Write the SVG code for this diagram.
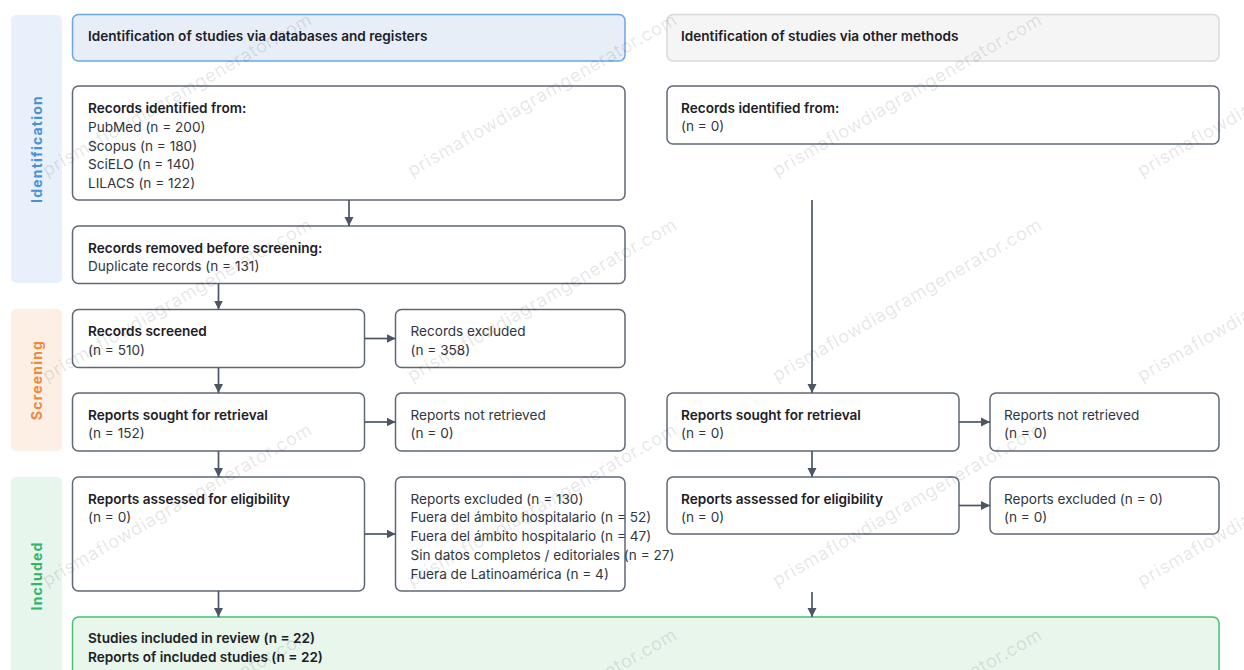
<svg xmlns="http://www.w3.org/2000/svg" width="1244" height="670" viewBox="0 0 1244 670">
  <defs>
    <marker id="arr" viewBox="0 0 10 10" refX="10" refY="5" markerWidth="9" markerHeight="10" markerUnits="userSpaceOnUse" orient="auto">
      <path d="M0,0 L10,5 L0,10 z" fill="#4b5565"/>
    </marker>
  </defs>
  <style>
    text { font-family: Inter, "Liberation Sans", "DejaVu Sans", sans-serif; font-size: 13.6px; }
    .box { fill: #ffffff; stroke: #5f6877; stroke-width: 1.5; }
    .t { fill: #1c2027; font-weight: 600; }
    .r { fill: #30353e; font-weight: 400; }
    .phase { font-size: 14px; font-weight: 700; letter-spacing: 1.2px; text-anchor: middle; }
    .conn line { stroke: #4b5565; stroke-width: 1.7; marker-end: url(#arr); }
    .wm text { font-size: 18px; fill: #000; fill-opacity: 0.11; }
  </style>
  <rect width="1244" height="670" fill="#ffffff"/>

  <!-- phase bars -->
  <g id="phase-identification">
    <rect x="11" y="15" width="51" height="268" rx="5" fill="#e8f0fb"/>
    <text class="phase" transform="translate(41.5,149) rotate(-90)" fill="#4a90d9">Identification</text>
  </g>
  <g id="phase-screening">
    <rect x="11" y="309" width="51" height="142" rx="5" fill="#fdefe3"/>
    <text class="phase" transform="translate(41.5,380) rotate(-90)" fill="#f0893a">Screening</text>
  </g>
  <g id="phase-included">
    <rect x="11" y="477" width="51" height="200" rx="5" fill="#e7f6ed"/>
    <text class="phase" transform="translate(41.5,576) rotate(-90)" fill="#2fb46a">Included</text>
  </g>

  <!-- headers -->
  <g id="header-databases">
    <rect x="72.5" y="14.5" width="552.5" height="46.5" rx="6" fill="#e8eef8" stroke="#6aa6e6" stroke-width="1.5"/>
    <text class="t" x="88" y="41">Identification of studies via databases and registers</text>
  </g>
  <g id="header-other">
    <rect x="667" y="14.5" width="552" height="46.5" rx="6" fill="#f5f5f5" stroke="#d9d9d9" stroke-width="1.5"/>
    <text class="t" x="681" y="41">Identification of studies via other methods</text>
  </g>

  <!-- left column -->
  <g id="records-identified-db">
    <rect class="box" x="72.5" y="86" width="552.5" height="114" rx="6"/>
    <text class="t" x="88" y="113">Records identified from:</text>
    <text class="r" x="88" y="131.7">PubMed (n = 200)</text>
    <text class="r" x="88" y="150.5">Scopus (n = 180)</text>
    <text class="r" x="88" y="169.2">SciELO (n = 140)</text>
    <text class="r" x="88" y="188">LILACS (n = 122)</text>
  </g>
  <g id="records-removed">
    <rect class="box" x="72.5" y="226" width="552.5" height="57.5" rx="6"/>
    <text class="t" x="88" y="252.7">Records removed before screening:</text>
    <text class="r" x="88" y="271.3">Duplicate records (n = 131)</text>
  </g>
  <g id="records-screened">
    <rect class="box" x="72.5" y="309.5" width="292" height="58" rx="6"/>
    <text class="t" x="88" y="336">Records screened</text>
    <text class="r" x="88" y="354.8">(n = 510)</text>
  </g>
  <g id="records-excluded">
    <rect class="box" x="395.5" y="309.5" width="229.5" height="58" rx="6"/>
    <text class="r" x="410.5" y="336">Records excluded</text>
    <text class="r" x="410.5" y="354.8">(n = 358)</text>
  </g>
  <g id="reports-sought-db">
    <rect class="box" x="72.5" y="393" width="292" height="58" rx="6"/>
    <text class="t" x="88" y="419.5">Reports sought for retrieval</text>
    <text class="r" x="88" y="438.3">(n = 152)</text>
  </g>
  <g id="reports-not-retrieved-db">
    <rect class="box" x="395.5" y="393" width="229.5" height="58" rx="6"/>
    <text class="r" x="410.5" y="419.5">Reports not retrieved</text>
    <text class="r" x="410.5" y="438.3">(n = 0)</text>
  </g>
  <g id="reports-assessed-db">
    <rect class="box" x="72.5" y="477" width="292" height="114" rx="6"/>
    <text class="t" x="88" y="503.5">Reports assessed for eligibility</text>
    <text class="r" x="88" y="522.3">(n = 0)</text>
  </g>
  <g id="reports-excluded-db">
    <rect class="box" x="395.5" y="477" width="229.5" height="114" rx="6"/>
    <text class="r" x="410.5" y="503.5">Reports excluded (n = 130)</text>
    <text class="r" x="410.5" y="522.3">Fuera del ámbito hospitalario (n = 52)</text>
    <text class="r" x="410.5" y="541.1">Fuera del ámbito hospitalario (n = 47)</text>
    <text class="r" x="410.5" y="559.9">Sin datos completos / editoriales (n = 27)</text>
    <text class="r" x="410.5" y="578.7">Fuera de Latinoamérica (n = 4)</text>
  </g>

  <!-- right column -->
  <g id="records-identified-other">
    <rect class="box" x="667" y="86" width="552" height="58" rx="6"/>
    <text class="t" x="681" y="112.5">Records identified from:</text>
    <text class="r" x="681" y="131.3">(n = 0)</text>
  </g>
  <g id="reports-sought-other">
    <rect class="box" x="667" y="393" width="292" height="58" rx="6"/>
    <text class="t" x="681" y="419.5">Reports sought for retrieval</text>
    <text class="r" x="681" y="438.3">(n = 0)</text>
  </g>
  <g id="reports-not-retrieved-other">
    <rect class="box" x="990" y="393" width="229" height="58" rx="6"/>
    <text class="r" x="1004" y="419.5">Reports not retrieved</text>
    <text class="r" x="1004" y="438.3">(n = 0)</text>
  </g>
  <g id="reports-assessed-other">
    <rect class="box" x="667" y="477" width="292" height="57" rx="6"/>
    <text class="t" x="681" y="503.5">Reports assessed for eligibility</text>
    <text class="r" x="681" y="522.3">(n = 0)</text>
  </g>
  <g id="reports-excluded-other">
    <rect class="box" x="990" y="477" width="229" height="57" rx="6"/>
    <text class="r" x="1004" y="503.5">Reports excluded (n = 0)</text>
    <text class="r" x="1004" y="522.3">(n = 0)</text>
  </g>

  <!-- included -->
  <g id="studies-included">
    <rect x="72.5" y="617" width="1146.5" height="72" rx="6" fill="#e8f6ec" stroke="#45c06f" stroke-width="1.5"/>
    <text class="t" x="88" y="643">Studies included in review (n = 22)</text>
    <text class="t" x="88" y="661.8">Reports of included studies (n = 22)</text>
  </g>

  <!-- connectors -->
  <g id="connectors" class="conn">
    <line x1="349" y1="200" x2="349" y2="226"/>
    <line x1="218.5" y1="283.5" x2="218.5" y2="309.5"/>
    <line x1="364.5" y1="338.5" x2="395.5" y2="338.5"/>
    <line x1="218.5" y1="367.5" x2="218.5" y2="393"/>
    <line x1="364.5" y1="422" x2="395.5" y2="422"/>
    <line x1="218.5" y1="451" x2="218.5" y2="477"/>
    <line x1="364.5" y1="534" x2="395.5" y2="534"/>
    <line x1="218.5" y1="591" x2="218.5" y2="617"/>
    <line x1="812" y1="200" x2="812" y2="393"/>
    <line x1="959" y1="422" x2="990" y2="422"/>
    <line x1="812" y1="451" x2="812" y2="477"/>
    <line x1="959" y1="505.5" x2="990" y2="505.5"/>
    <line x1="812" y1="592" x2="812" y2="617"/>
  </g>

  <!-- watermark -->
  <g id="watermark" class="wm">
    <text transform="translate(47,177) rotate(-30)" textLength="307" lengthAdjust="spacing">prismaflowdiagramgenerator.com</text>
    <text transform="translate(412,177) rotate(-30)" textLength="307" lengthAdjust="spacing">prismaflowdiagramgenerator.com</text>
    <text transform="translate(777,177) rotate(-30)" textLength="307" lengthAdjust="spacing">prismaflowdiagramgenerator.com</text>
    <text transform="translate(1142,177) rotate(-30)" textLength="307" lengthAdjust="spacing">prismaflowdiagramgenerator.com</text>
    <text transform="translate(47,382) rotate(-30)" textLength="307" lengthAdjust="spacing">prismaflowdiagramgenerator.com</text>
    <text transform="translate(412,382) rotate(-30)" textLength="307" lengthAdjust="spacing">prismaflowdiagramgenerator.com</text>
    <text transform="translate(777,382) rotate(-30)" textLength="307" lengthAdjust="spacing">prismaflowdiagramgenerator.com</text>
    <text transform="translate(1142,382) rotate(-30)" textLength="307" lengthAdjust="spacing">prismaflowdiagramgenerator.com</text>
    <text transform="translate(47,587) rotate(-30)" textLength="307" lengthAdjust="spacing">prismaflowdiagramgenerator.com</text>
    <text transform="translate(412,587) rotate(-30)" textLength="307" lengthAdjust="spacing">prismaflowdiagramgenerator.com</text>
    <text transform="translate(777,587) rotate(-30)" textLength="307" lengthAdjust="spacing">prismaflowdiagramgenerator.com</text>
    <text transform="translate(1142,587) rotate(-30)" textLength="307" lengthAdjust="spacing">prismaflowdiagramgenerator.com</text>
    <text transform="translate(47,792) rotate(-30)" textLength="307" lengthAdjust="spacing">prismaflowdiagramgenerator.com</text>
    <text transform="translate(412,792) rotate(-30)" textLength="307" lengthAdjust="spacing">prismaflowdiagramgenerator.com</text>
    <text transform="translate(777,792) rotate(-30)" textLength="307" lengthAdjust="spacing">prismaflowdiagramgenerator.com</text>
    <text transform="translate(1142,792) rotate(-30)" textLength="307" lengthAdjust="spacing">prismaflowdiagramgenerator.com</text>
  </g>
</svg>
